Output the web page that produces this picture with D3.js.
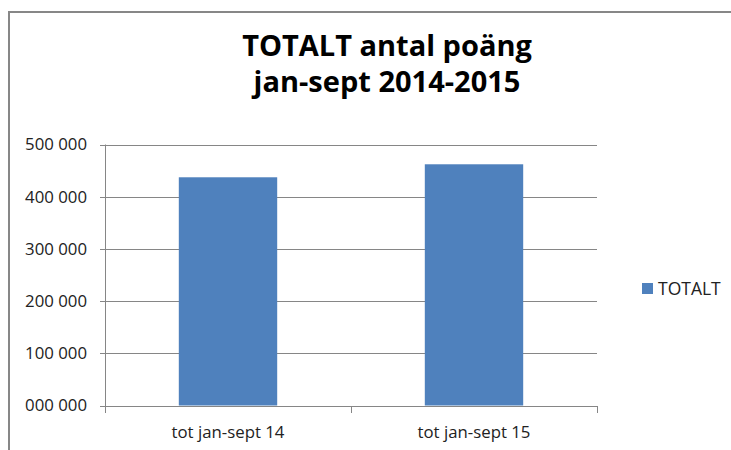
<!DOCTYPE html>
<html>
<head>
<meta charset="utf-8">
<script src="https://cdn.jsdelivr.net/npm/d3@7"></script>
<style>
  body { margin: 0; background: #fff; }
  svg text { font-family: "Open Sans", "Lato", sans-serif; fill: #222; }
</style>
</head>
<body>
<div id="chart"></div>
<script>
const categories = ["tot jan-sept 14", "tot jan-sept 15"];
const totals = [437200, 462100];
const yTicks = [0, 100000, 200000, 300000, 400000, 500000];
const seriesName = "TOTALT";
const titleLines = ["TOTALT antal poäng", "jan-sept 2014-2015"];

const width = 731, height = 450;
const margin = {top: 144.5, left: 105, right: 134, bottom: 44.5};

const svg = d3.select("#chart").append("svg")
    .attr("width", width)
    .attr("height", height);

// outer chart frame (cut by the screenshot on the right and bottom)
svg.append("path")
    .attr("d", `M9,${height + 5} V12 H${width + 5}`)
    .attr("fill", "none")
    .attr("stroke", "#878787")
    .attr("stroke-width", 2);

const x = d3.scaleBand()
    .domain(categories)
    .range([margin.left, width - margin.right])
    .paddingInner(0.6)
    .paddingOuter(0.3);

const xOuter = d3.scaleBand()
    .domain(categories)
    .range([margin.left, width - margin.right]);

const y = d3.scaleLinear()
    .domain([0, 500000])
    .range([height - margin.bottom, margin.top]);

const fmt = v => d3.format("06d")(v).replace(/(\d{3})(\d{3})$/, "$1 $2");

// gridlines
svg.append("g")
    .selectAll("line")
    .data(yTicks)
    .join("line")
    .attr("x1", margin.left - 5)
    .attr("x2", width - margin.right)
    .attr("y1", d => Math.round(y(d)) + 0.5)
    .attr("y2", d => Math.round(y(d)) + 0.5)
    .attr("stroke", "#868686");

// y axis line
svg.append("line")
    .attr("x1", margin.left + 0.5).attr("x2", margin.left + 0.5)
    .attr("y1", y(500000)).attr("y2", Math.round(y(0)) + 7)
    .attr("stroke", "#868686");

// category ticks
const catEdges = [margin.left].concat(categories.map(c => xOuter(c) + xOuter.bandwidth()));
svg.append("g")
    .selectAll("line")
    .data(catEdges.slice(1))
    .join("line")
    .attr("x1", d => Math.round(d) + 0.5)
    .attr("x2", d => Math.round(d) + 0.5)
    .attr("y1", Math.round(y(0)))
    .attr("y2", Math.round(y(0)) + 7)
    .attr("stroke", "#868686");

// y labels
svg.append("g")
    .selectAll("text")
    .data(yTicks)
    .join("text")
    .attr("x", 87)
    .attr("y", d => y(d))
    .attr("dy", "0.35em")
    .attr("text-anchor", "end")
    .attr("font-size", 16.8)
    .text(fmt);

// bars
svg.append("g")
    .selectAll("rect")
    .data(totals)
    .join("rect")
    .attr("x", (d, i) => x(categories[i]))
    .attr("width", x.bandwidth())
    .attr("y", d => y(d))
    .attr("height", d => y(0) - y(d))
    .attr("fill", "#4f81bd");

// category labels
svg.append("g")
    .selectAll("text")
    .data(categories)
    .join("text")
    .attr("x", d => xOuter(d) + xOuter.bandwidth() / 2)
    .attr("y", 438)
    .attr("text-anchor", "middle")
    .attr("font-size", 16.8)
    .text(d => d);

// title
svg.append("g")
    .selectAll("text")
    .data(titleLines)
    .join("text")
    .attr("x", 387)
    .attr("y", (d, i) => 56 + i * 36)
    .attr("text-anchor", "middle")
    .attr("font-size", 29)
    .attr("font-weight", "bold")
    .style("fill", "#000")
    .text(d => d);

// legend
const legend = svg.append("g").attr("transform", "translate(642,283)");
legend.append("rect")
    .attr("width", 11).attr("height", 11)
    .attr("fill", "#4f81bd");
legend.append("text")
    .attr("x", 16)
    .attr("y", 12)
    .attr("font-size", 17.5)
    .text(seriesName);
</script>
</body>
</html>
